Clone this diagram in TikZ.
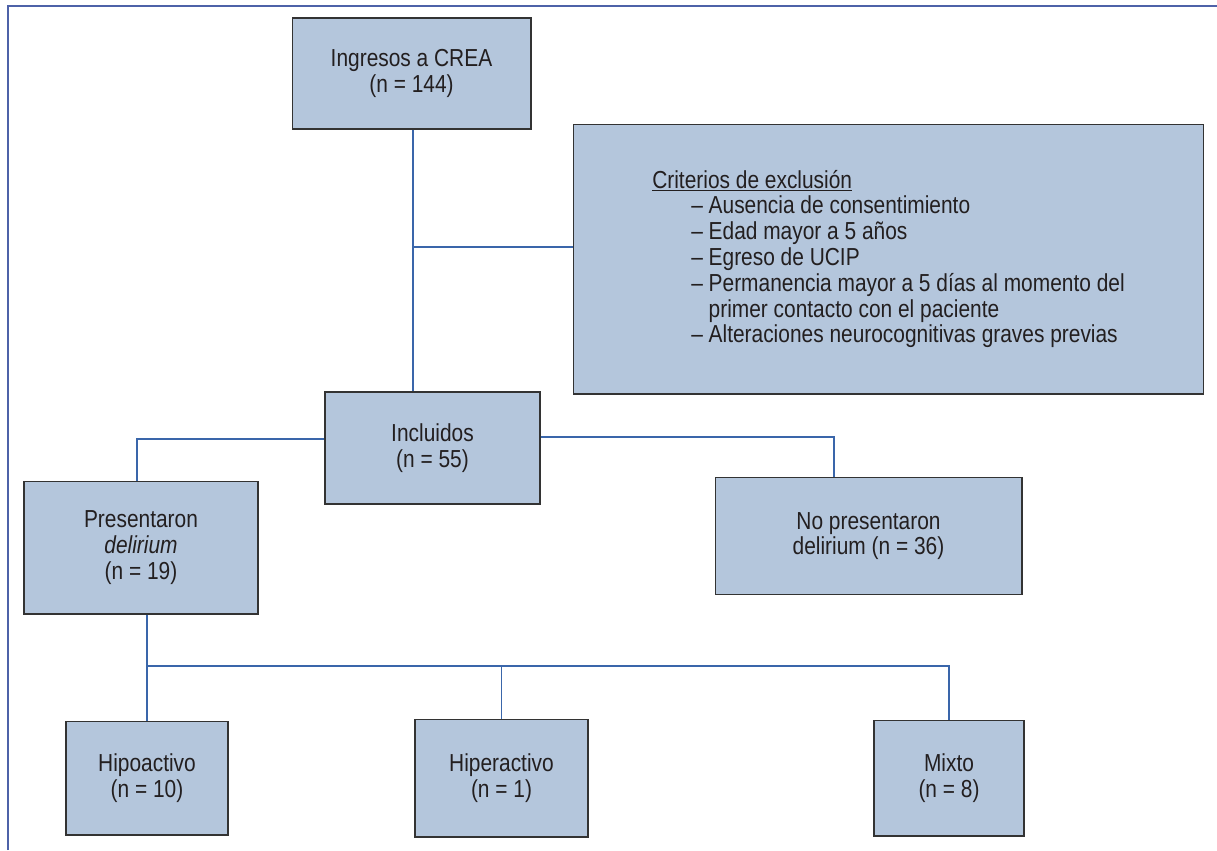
\documentclass[tikz,border=0pt]{standalone}
\usepackage{fontspec}
\setmainfont{Liberation Sans}[FakeStretch=0.85]
\usepackage{tikz}
\usetikzlibrary{arrows}
\definecolor{boxblue}{RGB}{180,198,220}
\definecolor{linkblue}{RGB}{58,102,170}
\definecolor{frameblue}{RGB}{78,98,168}
\definecolor{txtgray}{RGB}{35,31,32}
\tikzstyle{box} = [rectangle, draw=black!80, line width=0.6pt, fill=boxblue, text=txtgray, align=center, inner sep=0pt, font=\fontsize{14}{14.7}\selectfont]
\tikzstyle{link} = [draw=linkblue, line width=0.7pt]
\tikzstyle{frame} = [draw=frameblue, line width=1.1pt]

\begin{document}
\begin{tikzpicture}[x=0.02cm,y=-0.02cm]
\useasboundingbox (0,0) rectangle (1217,850);
\draw [frame] (8,850) -- (8,6) -- (1217,6);

\node [box, minimum width=4.78cm, minimum height=2.22cm] (crea) at (411.5,73.5) {Ingresos a CREA\\(n = 144)};
\node [box, align=left, minimum width=12.62cm, minimum height=5.4cm] (excl) at (888.5,259) {\underline{Criterios de exclusión}\\
\hspace*{0.78cm}– Ausencia de consentimiento\\
\hspace*{0.78cm}– Edad mayor a 5 años\\
\hspace*{0.78cm}– Egreso de UCIP\\
\hspace*{0.78cm}– Permanencia mayor a 5 días al momento del\\
\hspace*{0.78cm}\hphantom{– }primer contacto con el paciente\\
\hspace*{0.78cm}– Alteraciones neurocognitivas graves previas};

\node [box, minimum width=4.3cm, minimum height=2.24cm] (incl) at (432.5,448) {Incluidos\\(n = 55)};
\node [box, minimum width=4.68cm, minimum height=2.66cm] (pres) at (141,547.5) {Presentaron\\\textit{delirium}\\(n = 19)};
\node [box, minimum width=6.14cm, minimum height=2.34cm] (nopres) at (868.5,536) {No presentaron\\delirium (n = 36)};

\node [box, minimum width=3.24cm, minimum height=2.28cm] (hipo) at (147,778) {Hipoactivo\\(n = 10)};
\node [box, minimum width=3.46cm, minimum height=2.36cm] (hiper) at (501.5,778) {Hiperactivo\\(n = 1)};
\node [box, minimum width=3cm, minimum height=2.32cm] (mixto) at (949,778) {Mixto\\(n = 8)};

\coordinate (j1) at (413,247);
\coordinate (bus) at (147,666);

\draw [link] ([xshift=0.03cm]crea.south) -- ([xshift=0.03cm]crea.south |- incl.north);
\draw [link] (j1) -- (j1 -| excl.west);

\draw [link] ([yshift=1.8mm]incl.west) -| ([xshift=-0.8mm]pres.north);
\draw [link] ([yshift=2.2mm]incl.east) -| ([xshift=-6.9mm]nopres.north);

\draw [link] (pres.south -| hipo.north) -- (hipo.north);
\draw [link] (bus) -| (mixto.north);
\draw [link] (bus -| hiper.north) -- (hiper.north);

\end{tikzpicture}
\end{document}
